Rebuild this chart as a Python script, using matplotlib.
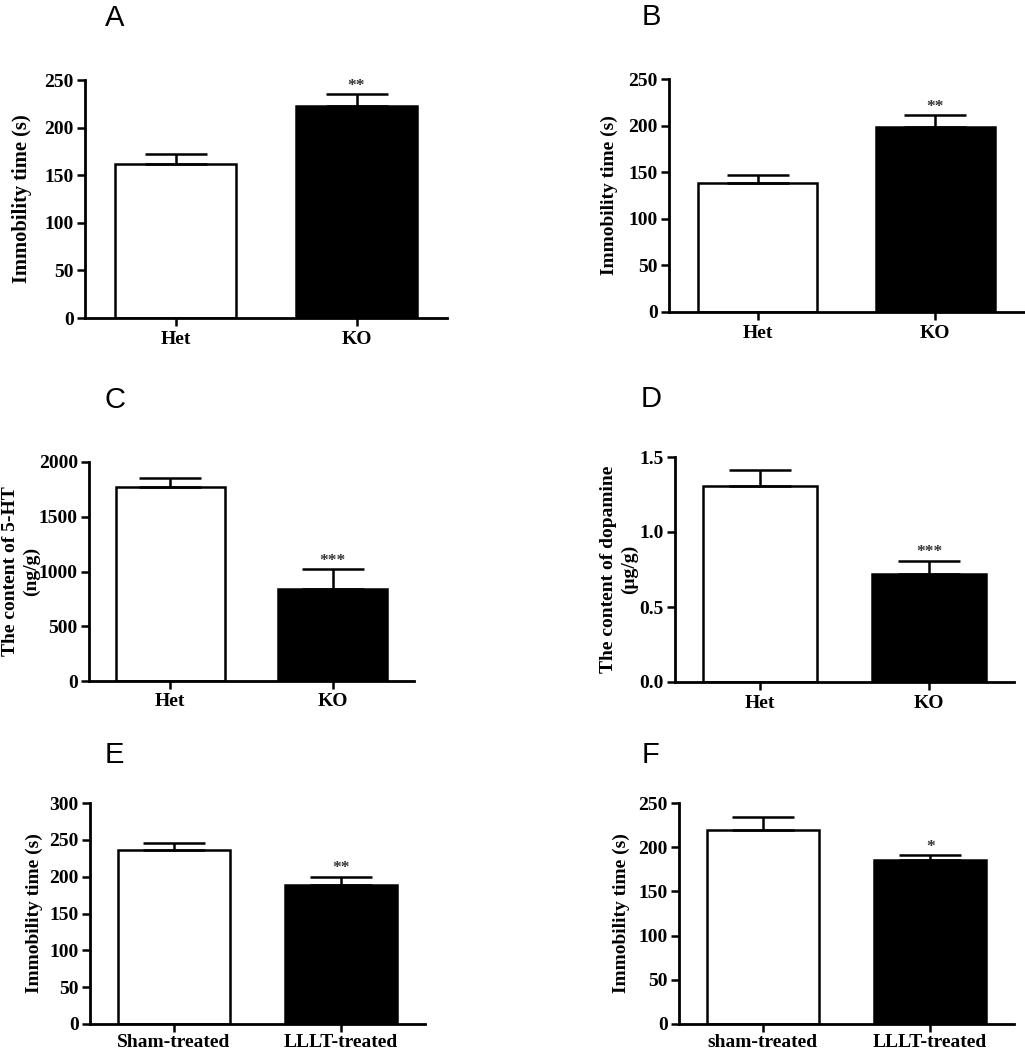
import matplotlib
matplotlib.use('Agg')
import matplotlib.pyplot as plt
from matplotlib.ticker import FormatStrFormatter

W, H = 1025, 1050

# data (mean, upper error bar length)
groups_ko = ['Het', 'KO']
groups_e = ['Sham-treated', 'LLLT-treated']
groups_f = ['sham-treated', 'LLLT-treated']

a_mean = [162, 223]
a_err = [10, 12]
b_mean = [138, 199]
b_err = [9, 12]
c_mean = [1775, 836]
c_err = [80, 185]
d_mean = [1.305, 0.722]
d_err = [0.11, 0.085]
e_mean = [236, 188.5]
e_err = [10, 11]
f_mean = [220, 185.3]
f_err = [14, 5.5]

a_stars = ['', '**']
b_stars = ['', '**']
c_stars = ['', '***']
d_stars = ['', '***']
e_stars = ['', '**']
f_stars = ['', '*']

plt.rcParams['font.family'] = ['Liberation Serif', 'DejaVu Serif']
plt.rcParams['font.weight'] = 'bold'

fig = plt.figure(figsize=(W / 100, H / 100), dpi=100)


def panel(box, letter, letter_xy, cats, means, errs, stars, ymax, ystep, ylabel, ylab_x,
          fmt=None, lab_size=14, xpad=3):
    # box: left, right, top(ymax) and zero pixel positions
    l, r, t, b = box
    ax = fig.add_axes([l / W, 1 - b / H, (r - l) / W, (b - t) / H])
    x = [0, 1]
    ax.bar(x, means, width=0.67, color=['white', 'black'], edgecolor='black', linewidth=1.8, zorder=2)
    ax.errorbar(x, means, yerr=[[0, 0], errs], fmt='none', ecolor='black', elinewidth=1.8,
                capsize=22, capthick=1.8, zorder=3)
    for xi, m, e, s in zip(x, means, errs, stars):
        if s:
            ax.annotate(s, (xi, m + e), xytext=(0, 0.5), textcoords='offset points',
                        ha='center', va='bottom', fontsize=12.5, color='#333333')
    ax.set_xlim(-0.5, 1.5)
    ax.set_ylim(0, ymax)
    ticks = [i * ystep for i in range(int(round(ymax / ystep)) + 1)]
    ax.set_yticks(ticks)
    if fmt:
        ax.yaxis.set_major_formatter(FormatStrFormatter(fmt))
    ax.set_xticks(x)
    ax.set_xticklabels(cats)
    for sp in ['top', 'right']:
        ax.spines[sp].set_visible(False)
    for sp in ['left', 'bottom']:
        ax.spines[sp].set_linewidth(2)
    ax.spines['left'].set_bounds(0, ymax)
    ax.tick_params(axis='both', length=6, width=1.8, labelsize=14, direction='out')
    ax.tick_params(axis='y', pad=2)
    ax.tick_params(axis='x', pad=xpad)
    ax.set_ylabel(ylabel, fontsize=lab_size, fontweight='bold', linespacing=1.25)
    # ylab_x is the right edge of the rotated label in pixels
    ax.yaxis.set_label_coords((ylab_x - l) / (r - l), 0.5)
    fig.text(letter_xy[0] / W, 1 - letter_xy[1] / H, letter, family='Liberation Sans',
             fontweight='normal', fontsize=21, ha='center', va='center')
    return ax


panel((85, 447, 80, 318), 'A', (115, 18), groups_ko, a_mean, a_err, a_stars, 250, 50,
      'Immobility time (s)', 32, lab_size=14.8)
panel((669, 1024, 79, 312), 'B', (651, 17), groups_ko, b_mean, b_err, b_stars, 250, 50,
      'Immobility time (s)', 618)
panel((89, 414, 462, 681), 'C', (115, 400), groups_ko, c_mean, c_err, c_stars, 2000, 500,
      'The content of 5-HT\n(ng/g)', 40)
panel((675, 1014, 457, 682), 'D', (651, 399), groups_ko, d_mean, d_err, d_stars, 1.5, 0.5,
      'The content of dopamine\n(\u03bcg/g)', 638, fmt='%.1f')
panel((90, 425, 803, 1024), 'E', (114, 755), groups_e, e_mean, e_err, e_stars, 300, 50,
      'Immobility time (s)', 43, xpad=1)
panel((679, 1014, 803, 1024), 'F', (650, 755), groups_f, f_mean, f_err, f_stars, 250, 50,
      'Immobility time (s)', 630, xpad=1)

fig.savefig('out.png', dpi=100)
